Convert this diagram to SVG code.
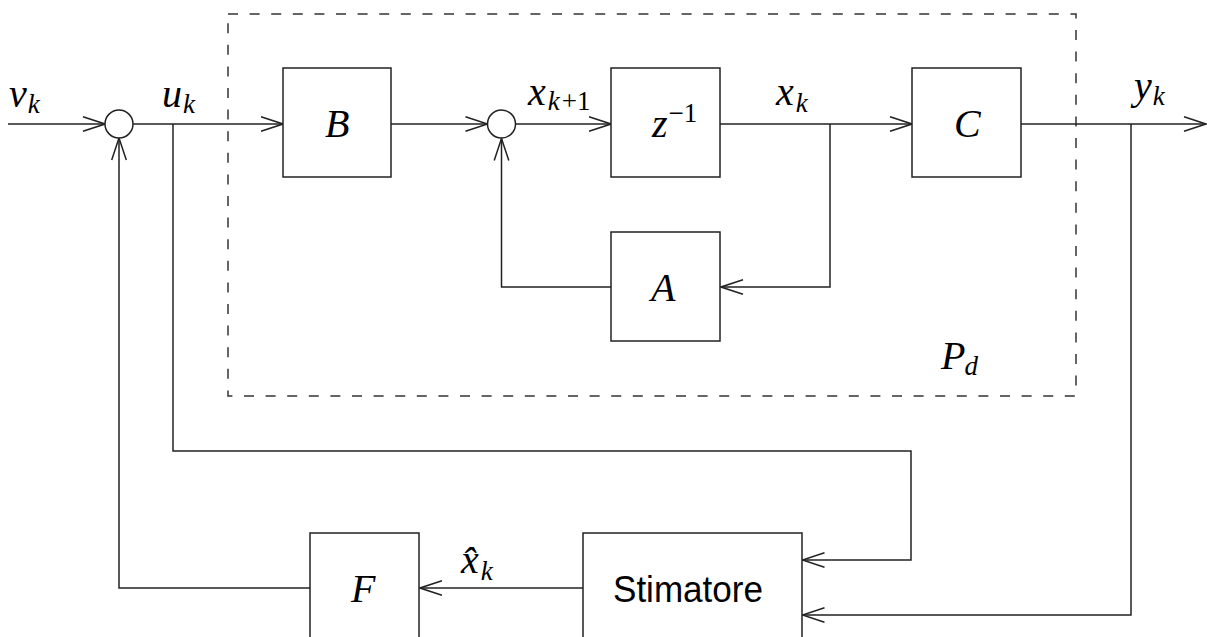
<svg xmlns="http://www.w3.org/2000/svg" width="1207" height="637" viewBox="0 0 1207 637">
<style>
.ln{fill:none;stroke:#222;stroke-width:1.5}
.bx{fill:#fff;stroke:#222;stroke-width:1.5}
.dash{fill:none;stroke:#333;stroke-width:1.5;stroke-dasharray:10 11.6}
.m{font-family:"Liberation Serif","DejaVu Serif",serif;font-style:italic;font-size:40px;fill:#000}
.s{font-size:27px}
.r{font-style:normal}
.sans{font-family:"Liberation Sans","DejaVu Sans",sans-serif;font-size:36px;fill:#000}
</style>
<defs>
<marker id="ar" viewBox="-23 -9 25 18" refX="0" refY="0" markerWidth="25" markerHeight="18" markerUnits="userSpaceOnUse" orient="auto">
<path d="M-22,-7.3 L0,0 L-22,7.3" fill="none" stroke="#222" stroke-width="1.5"/>
</marker>
</defs>
<rect width="1207" height="637" fill="#fff"/>
<g id="plant-boundary">
<rect class="dash" x="228" y="14" width="848" height="382"/>
<text class="m" x="941" y="369">P<tspan class="s" dx="-1" dy="6">d</tspan></text>
</g>
<g id="connectors">
<path class="ln" d="M8,124 H105" marker-end="url(#ar)"/>
<path class="ln" d="M133,124 H283" marker-end="url(#ar)"/>
<path class="ln" d="M173,124 V451 H911 V560 H802.5" marker-end="url(#ar)"/>
<path class="ln" d="M391,124 H487.5" marker-end="url(#ar)"/>
<path class="ln" d="M515.5,124 H611" marker-end="url(#ar)"/>
<path class="ln" d="M720,124 H912" marker-end="url(#ar)"/>
<path class="ln" d="M830,124 V287 H721" marker-end="url(#ar)"/>
<path class="ln" d="M611,287 H501.5 V138.5" marker-end="url(#ar)"/>
<path class="ln" d="M1021,124 H1206" marker-end="url(#ar)"/>
<path class="ln" d="M1131,124 V615 H802.5" marker-end="url(#ar)"/>
<path class="ln" d="M583,588 H420" marker-end="url(#ar)"/>
<path class="ln" d="M310,588 H119 V138" marker-end="url(#ar)"/>
</g>
<g id="sum1"><circle class="bx" cx="119" cy="124" r="14"/></g>
<g id="sum2"><circle class="bx" cx="501.5" cy="124" r="14"/></g>
<g id="B"><rect class="bx" x="283" y="68" width="108" height="109"/><text class="m" x="325" y="137">B</text></g>
<g id="delay"><rect class="bx" x="611" y="68" width="109" height="109"/><text class="m" x="652" y="137">z<tspan class="s r" dx="1" dy="-15">−1</tspan></text></g>
<g id="C"><rect class="bx" x="912" y="68" width="109" height="109"/><text class="m" x="954" y="137">C</text></g>
<g id="A"><rect class="bx" x="611" y="232" width="109" height="109"/><text class="m" x="651" y="301">A</text></g>
<g id="F"><rect class="bx" x="310" y="533" width="109" height="130"/><text class="m" x="351" y="602">F</text></g>
<g id="Stimatore"><rect class="bx" x="583" y="533" width="219" height="130"/><text class="sans" x="613" y="602" textLength="150" lengthAdjust="spacingAndGlyphs">Stimatore</text></g>
<g id="labels">
<text class="m" x="9" y="107">v<tspan class="s" dx="1" dy="6">k</tspan></text>
<text class="m" x="162" y="107">u<tspan class="s" dx="1" dy="6">k</tspan></text>
<text class="m" x="528" y="105">x<tspan class="s" dx="2" dy="5">k</tspan><tspan class="s r" dx="2">+1</tspan></text>
<text class="m" x="776" y="105">x<tspan class="s" dx="2" dy="7">k</tspan></text>
<text class="m" x="1134" y="99">y<tspan class="s" dx="1" dy="6">k</tspan></text>
<text class="m" x="461" y="573">x̂<tspan class="s" dx="2" dy="7">k</tspan></text>
</g>
</svg>
